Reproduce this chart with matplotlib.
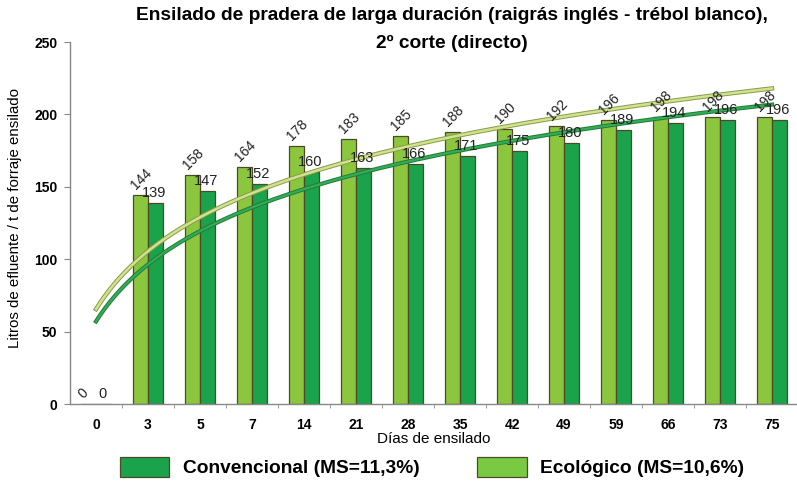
import numpy as np
import matplotlib
matplotlib.use("Agg")
import matplotlib.pyplot as plt
import matplotlib.patheffects as pe
from matplotlib.patches import Patch

plt.rcParams['font.family'] = ['Liberation Sans', 'DejaVu Sans']

dias = ["0", "3", "5", "7", "14", "21", "28", "35", "42", "49", "59", "66", "73", "75"]
ecologico = [0, 144, 158, 164, 178, 183, 185, 188, 190, 192, 196, 198, 198, 198]
convencional = [0, 139, 147, 152, 160, 163, 166, 171, 175, 180, 189, 194, 196, 196]

c_light = "#8cc63f"
c_dark = "#1aa34a"
edge = "#4d4a2a"

fig = plt.figure(figsize=(7.97, 4.84), dpi=100)
ax = fig.add_axes([70/797, 1-404/484, 728/797, (404-42)/484])

x = np.arange(len(dias))
w = 0.29
ax.bar(x - w/2, ecologico, w, color=c_light, edgecolor=edge, linewidth=0.9, zorder=2)
ax.bar(x + w/2, convencional, w, color=c_dark, edgecolor=edge, linewidth=0.9, zorder=2)

# logarithmic trend lines (Excel-style, x = category index + 1)
xx = np.linspace(0, len(dias) - 1, 300)
for vals, col, ecol, lw in [(ecologico, "#cfe38f", "#8a9a48", 1.8), (convencional, "#30ad55", "#237a3c", 1.6)]:
    a, b = np.polyfit(np.log(x + 1), vals, 1)
    ax.plot(xx, a*np.log(xx + 1) + b, color=col, lw=lw, zorder=3,
            path_effects=[pe.Stroke(linewidth=lw + 1.4, foreground=ecol), pe.Normal()])

for i in range(len(dias)):
    ax.text(x[i] - 0.19, ecologico[i] + 2, str(ecologico[i]), rotation=45,
            rotation_mode='anchor', ha='left', va='bottom', fontsize=10, color='#222222', zorder=4)
    ax.text(x[i] + w/2 - 0.02, convencional[i] + 2, str(convencional[i]),
            ha='center', va='bottom', fontsize=10.5, color='#222222', zorder=4)

ax.set_xlim(-0.5, len(dias) - 0.5)
ax.set_ylim(0, 250)
ax.set_yticks(np.arange(0, 251, 50))
ax.set_xticks(x)
ax.set_xticklabels(dias, fontweight='bold', fontsize=10)
ax.set_xticks(np.arange(0.5, len(dias) - 0.5, 1), minor=True)
ax.tick_params(axis='x', which='major', length=0, pad=10)
ax.tick_params(axis='x', which='minor', length=3, color='#888888', direction='out')
ax.tick_params(axis='y', length=4, color='#888888', labelsize=10, pad=5)
for lbl in ax.get_yticklabels():
    lbl.set_fontweight('bold')
for s in ['top', 'right']:
    ax.spines[s].set_visible(False)
for s in ['left', 'bottom']:
    ax.spines[s].set_color('#888888')
    ax.spines[s].set_linewidth(1.0)

ax.set_xlabel("Días de ensilado", fontsize=11, labelpad=0)
fig.text(15/797, 1-218/484, "Litros de efluente / t de forraje ensilado", rotation=90,
         ha='center', va='center', fontsize=10.8)

fig.text(452/797, 1-16/484, "Ensilado de pradera de larga duración (raigrás inglés - trébol blanco),",
         ha='center', va='center', fontsize=13.8, fontweight='bold')
fig.text(452/797, 1-43/484, "2º corte (directo)",
         ha='center', va='center', fontsize=13.8, fontweight='bold')

handles = [Patch(facecolor=c_dark, edgecolor=edge, linewidth=0.9),
           Patch(facecolor="#7ac943", edgecolor=edge, linewidth=0.9)]
leg = fig.legend(handles, ["Convencional (MS=11,3%)", "Ecológico (MS=10,6%)"],
                 loc='center', bbox_to_anchor=(432/797, 1-467/484), ncol=2, frameon=False,
                 prop={'weight': 'bold', 'size': 13.8}, handlelength=2.6, handleheight=1.3,
                 handletextpad=0.7, columnspacing=3.0)

fig.savefig("out.png", dpi=100)
